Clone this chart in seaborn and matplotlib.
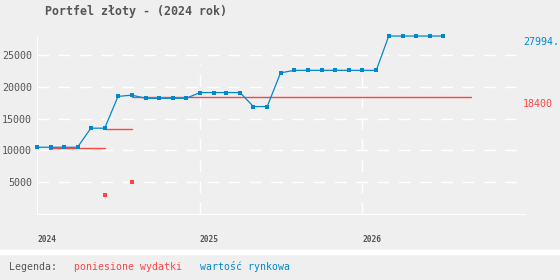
import matplotlib
matplotlib.use("Agg")
import matplotlib.pyplot as plt
from matplotlib.patches import Rectangle
import seaborn as sns
import pandas as pd
import numpy as np

# ---- data ----
title = "Portfel złoty - (2024 rok)"
market_months = pd.date_range("2024-01-01", periods=31, freq="MS")
market_values = [10500, 10500, 10500, 10500, 13500, 13500, 18500, 18700,
                 18200, 18200, 18200, 18200, 19100, 19100, 19100, 19100,
                 16900, 16900, 22200, 22600, 22600, 22600, 22600, 22600,
                 22600, 22600, 27994, 27994, 27994, 27994, 27994]
expense_dates = pd.to_datetime(["2024-02-01", "2024-06-01", "2024-08-01"])
expense_amounts = [10400, 3000, 5000]
expense_end = pd.Timestamp("2026-09-01")
year_ticks = pd.to_datetime(["2024-01-01", "2025-01-01", "2026-01-01"])
year_labels = ["2024", "2025", "2026"]
y_ticks = [5000, 10000, 15000, 20000, 25000]
last_market_label = "27994."
last_expense_label = "18400"
legend_title = "Legenda:"
legend_labels = ["poniesione wydatki", "wartość rynkowa"]

BLUE = "#0088cc"
RED = "#ff4444"
GRAY = "#555555"
BG = "#efefef"

sns.set_style("white", {"axes.facecolor": BG, "figure.facecolor": BG})
plt.rcParams["font.family"] = ["DejaVu Sans Mono", "DejaVu Sans"]

fig = plt.figure(figsize=(5.6, 2.8), dpi=100, facecolor=BG)
ax = fig.add_axes([37 / 560, 66 / 280, 488 / 560, 178 / 280])
ax.set_facecolor(BG)

# cumulative expense segments
cum = np.cumsum(expense_amounts)
seg_starts = list(expense_dates)
seg_ends = list(expense_dates[1:]) + [expense_end]
seg_df = pd.DataFrame({
    "date": [d for pair in zip(seg_starts, seg_ends) for d in pair],
    "value": [v for v in cum for _ in range(2)],
    "seg": [i for i in range(len(cum)) for _ in range(2)],
})

# grid
ax.yaxis.grid(True, color="white", lw=1.0, linestyle=(0, (8.5, 6.8)))
ax.set_axisbelow(True)
ax.vlines(year_ticks[1:], 0, 23600, colors="white", lw=1.0,
          linestyles=[(0, (8.5, 6.8))], zorder=0.5)

sns.lineplot(data=seg_df, x="date", y="value", units="seg", estimator=None,
             color=RED, lw=1.0, ax=ax, zorder=2)
mk_df = pd.DataFrame({"date": market_months, "value": market_values})
sns.lineplot(data=mk_df, x="date", y="value", color=BLUE, lw=0.9,
             marker="s", markersize=2.8, markeredgewidth=0, ax=ax, zorder=3)
ex_df = pd.DataFrame({"date": expense_dates, "value": expense_amounts})
sns.scatterplot(data=ex_df, x="date", y="value", color=RED, marker="s",
                s=7, linewidth=0, ax=ax, zorder=2.5)
for coll in ax.collections:
    coll.set_clip_on(False)
for ln in ax.lines:
    ln.set_clip_on(False)

ax.set_xlim(pd.Timestamp("2024-01-01"), pd.Timestamp("2027-01-01"))
ax.set_ylim(0, 28000)
ax.set_xlabel("")
ax.set_ylabel("")

ax.set_yticks(y_ticks)
ax.set_yticklabels([str(v) for v in y_ticks], fontsize=7.2, color=GRAY)
ax.tick_params(axis="y", length=0, pad=3.6)
ax.set_xticks(year_ticks)
ax.set_xticklabels(year_labels, fontsize=5.7, fontweight="bold", color=GRAY,
                   ha="left")
ax.tick_params(axis="x", direction="out", length=2.2, width=0.8,
               color="white", pad=13)

for s in ["top", "right"]:
    ax.spines[s].set_visible(False)
for s in ["left", "bottom"]:
    ax.spines[s].set_color("white")
    ax.spines[s].set_linewidth(0.8)

ax.annotate(last_market_label, xy=(1, market_values[-1]),
            xycoords=("axes fraction", "data"), xytext=(-2, -6),
            textcoords="offset pixels", color=BLUE, fontsize=7.2,
            ha="left", va="center")
ax.annotate(last_expense_label, xy=(1, cum[-1]),
            xycoords=("axes fraction", "data"), xytext=(-2, -7),
            textcoords="offset pixels", color=RED, fontsize=7.2,
            ha="left", va="center")

fig.text(45 / 560, 1 - 12 / 280, title, fontsize=8.4, fontweight="bold",
         color=GRAY, ha="left", va="center")

fig.patches.append(Rectangle((0, 26 / 280), 1, 4 / 280,
                             transform=fig.transFigure, color="white",
                             zorder=0))
fig.text(9.3 / 560, 1 - 267 / 280, legend_title, fontsize=7.15, color=GRAY,
         ha="left", va="center")
fig.text(74 / 560, 1 - 267 / 280, legend_labels[0], fontsize=7.15, color=RED,
         ha="left", va="center")
fig.text(200 / 560, 1 - 267 / 280, legend_labels[1], fontsize=7.15,
         color=BLUE, ha="left", va="center")

fig.savefig("out.png", dpi=100, facecolor=BG)
